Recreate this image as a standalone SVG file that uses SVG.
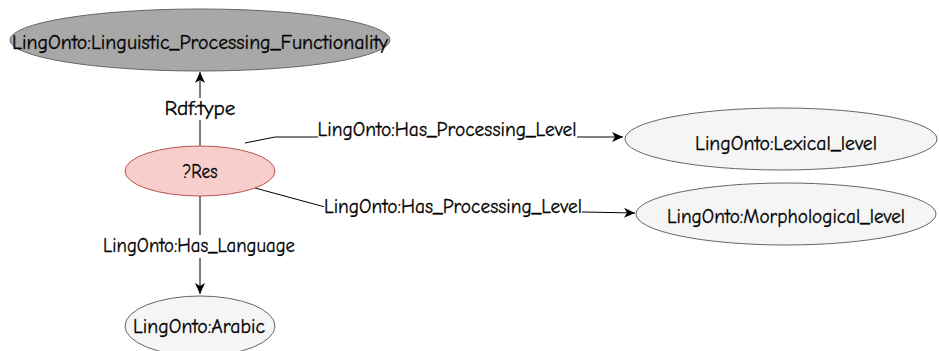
<svg xmlns="http://www.w3.org/2000/svg" width="939" height="351" viewBox="0 0 939 351">
<style>
text{font-family:"Comic Neue","DejaVu Sans","Liberation Sans",sans-serif;font-size:20px;text-anchor:middle;fill:#000;stroke:#000;stroke-width:0.3px}
.gray{fill:#f5f5f5;stroke:#666666;stroke-width:1}
.edge{fill:none;stroke:#000;stroke-width:1}
.bg{fill:#fff}
</style>
<defs>
<marker id="arr" markerUnits="userSpaceOnUse" markerWidth="12" markerHeight="10" viewBox="0 0 12 10" refX="11" refY="5" orient="auto">
<path d="M0,0 L11,5 L0,10 L3,5 Z" fill="#000"/>
</marker>
</defs>
<g id="edges">
<path class="edge" d="M200,146 L200,72" marker-end="url(#arr)"/>
<path class="edge" d="M245,143 L275,137 L623,137" marker-end="url(#arr)"/>
<path class="edge" d="M255,188 L325,207 L635,213" marker-end="url(#arr)"/>
<path class="edge" d="M200,196 L200,294" marker-end="url(#arr)"/>
<rect class="bg" x="164" y="98" width="72" height="22"/>
<text x="200" y="115" textLength="71" lengthAdjust="spacingAndGlyphs">Rdf:type</text>
<rect class="bg" x="318" y="119" width="259" height="22"/>
<text x="447" y="136" textLength="259" lengthAdjust="spacingAndGlyphs">LingOnto:Has_Processing_Level</text>
<rect class="bg" x="324" y="196" width="258" height="22"/>
<text x="453" y="213" textLength="258" lengthAdjust="spacingAndGlyphs">LingOnto:Has_Processing_Level</text>
<rect class="bg" x="103" y="235" width="192" height="23"/>
<text x="199" y="252" textLength="192" lengthAdjust="spacingAndGlyphs">LingOnto:Has_Language</text>
</g>
<g id="functionality">
<ellipse cx="200" cy="40" rx="190" ry="31" fill="#a8a8a8" stroke="#666666"/>
<text x="200" y="49" textLength="376" lengthAdjust="spacingAndGlyphs">LingOnto:Linguistic_Processing_Functionality</text>
</g>
<g id="res">
<ellipse cx="200" cy="171" rx="75" ry="25" fill="#f8cecc" stroke="#b85450"/>
<text x="200" y="178" textLength="35" lengthAdjust="spacingAndGlyphs">?Res</text>
</g>
<g id="lexical">
<ellipse class="gray" cx="781" cy="139" rx="156" ry="31"/>
<text x="786" y="150" textLength="182" lengthAdjust="spacingAndGlyphs">LingOnto:Lexical_level</text>
</g>
<g id="morphological">
<ellipse class="gray" cx="786" cy="214" rx="150" ry="31"/>
<text x="786" y="223" textLength="238" lengthAdjust="spacingAndGlyphs">LingOnto:Morphological_level</text>
</g>
<g id="arabic">
<ellipse class="gray" cx="200" cy="326" rx="75" ry="30"/>
<text x="199" y="333" textLength="132" lengthAdjust="spacingAndGlyphs">LingOnto:Arabic</text>
</g>
</svg>
